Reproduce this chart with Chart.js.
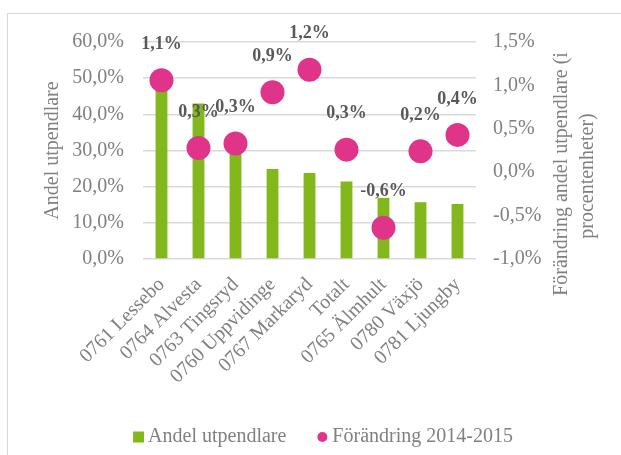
<!DOCTYPE html>
<html>
<head>
<meta charset="utf-8">
<script src="https://cdn.jsdelivr.net/npm/chart.js@4/dist/chart.umd.min.js"></script>
<style>
  body { margin: 0; background: #fff; }
</style>
</head>
<body>
<canvas id="chart" width="621" height="455"></canvas>
<script>
// data
const categories = ['0761 Lessebo', '0764 Alvesta', '0763 Tingsryd', '0760 Uppvidinge',
    '0767 Markaryd', 'Totalt', '0765 Älmhult', '0780 Växjö', '0781 Ljungby'];
const andelUtpendlare = [49.0, 43.0, 31.0, 24.9, 23.8, 21.4, 16.9, 15.7, 15.2];
const forandring = [1.06, 0.28, 0.33, 0.92, 1.18, 0.26, -0.64, 0.24, 0.43];
const leftTicks = { min: 0, max: 60, step: 10 };
const rightTicks = { min: -1.0, max: 1.5, step: 0.5 };

const GREEN = '#83b81d';
const PINK = '#e0338a';
const GRAY = '#808080';
const FONT = "'Liberation Serif', 'DejaVu Serif', serif";
const SIZE = 20;

function pct(v) {
    return v.toFixed(1).replace('.', ',') + '%';
}

// frame, right title, point labels and legend
const decorations = {
    id: 'decorations',
    beforeDraw(chart) {
        const ctx = chart.ctx;
        ctx.save();
        ctx.fillStyle = '#fff';
        ctx.fillRect(0, 0, chart.width, chart.height);
        ctx.strokeStyle = '#d9d9d9';
        ctx.lineWidth = 1;
        ctx.strokeRect(7.5, 13.5, 700, 600);
        ctx.restore();
    },
    afterDraw(chart) {
        const ctx = chart.ctx;
        ctx.save();

        // value labels above dots
        const meta = chart.getDatasetMeta(0);
        ctx.font = 'bold 18px ' + FONT;
        ctx.fillStyle = '#595959';
        ctx.textAlign = 'center';
        ctx.textBaseline = 'middle';
        meta.data.forEach((pt, i) => {
            ctx.fillText(pct(forandring[i]), pt.x, pt.y - 36);
        });

        // right axis title, reading bottom to top
        ctx.font = SIZE + 'px ' + FONT;
        ctx.fillStyle = GRAY;
        [['Förändring andel utpendlare (i', 562, 174], ['procentenheter)', 588, 176]].forEach(([txt, x, y]) => {
            ctx.save();
            ctx.translate(x, y);
            ctx.rotate(-Math.PI / 2);
            ctx.fillText(txt, 0, 0);
            ctx.restore();
        });

        // legend
        const legendY = 437;
        const t1 = 'Andel utpendlare', t2 = 'Förändring 2014-2015';
        const w1 = ctx.measureText(t1).width, w2 = ctx.measureText(t2).width;
        const total = 11 + 4 + w1 + 31 + 10 + 5 + w2;
        let x = 323 - total / 2;
        ctx.textAlign = 'left';
        ctx.fillStyle = GREEN;
        ctx.fillRect(x, legendY - 5.5, 11, 11);
        x += 15;
        ctx.fillStyle = GRAY;
        ctx.fillText(t1, x, legendY);
        x += w1 + 31;
        ctx.fillStyle = PINK;
        ctx.beginPath();
        ctx.arc(x + 5, legendY, 5, 0, Math.PI * 2);
        ctx.fill();
        x += 15;
        ctx.fillStyle = GRAY;
        ctx.fillText(t2, x, legendY);

        ctx.restore();
    }
};

new Chart(document.getElementById('chart'), {
    type: 'bar',
    data: {
        labels: categories,
        datasets: [
            {
                type: 'line',
                label: 'Förändring 2014-2015',
                data: forandring,
                yAxisID: 'y1',
                showLine: false,
                pointRadius: 12,
                pointHoverRadius: 12,
                pointBackgroundColor: PINK,
                pointBorderWidth: 0
            },
            {
                label: 'Andel utpendlare',
                data: andelUtpendlare,
                yAxisID: 'y',
                backgroundColor: GREEN,
                categoryPercentage: 1,
                barPercentage: 0.32
            }
        ]
    },
    options: {
        responsive: false,
        animation: false,
        layout: { padding: { left: 39, top: 42, right: 0, bottom: 46 } },
        plugins: {
            legend: { display: false },
            tooltip: { enabled: false }
        },
        scales: {
            x: {
                grid: { display: false },
                border: { display: false },
                ticks: {
                    color: GRAY,
                    font: { family: FONT, size: SIZE },
                    minRotation: 45,
                    maxRotation: 45,
                    autoSkip: false,
                    padding: 6
                },
                afterFit(scale) { scale.height = 150; }
            },
            y: {
                position: 'left',
                min: leftTicks.min,
                max: leftTicks.max,
                grid: { color: '#d9d9d9', lineWidth: 1.5, drawTicks: false },
                border: { display: false },
                ticks: {
                    stepSize: leftTicks.step,
                    color: GRAY,
                    font: { family: FONT, size: SIZE },
                    padding: 19,
                    callback: v => pct(v)
                },
                title: {
                    display: true,
                    text: 'Andel utpendlare',
                    color: GRAY,
                    font: { family: FONT, size: SIZE },
                    padding: { top: 2, bottom: 4 }
                },
                afterFit(scale) { scale.width = 143 - 39; }
            },
            y1: {
                position: 'right',
                min: rightTicks.min,
                max: rightTicks.max,
                grid: { display: false, drawTicks: false },
                border: { display: false },
                ticks: {
                    stepSize: rightTicks.step,
                    color: GRAY,
                    font: { family: FONT, size: SIZE },
                    padding: 17,
                    callback: v => pct(v)
                },
                afterFit(scale) { scale.width = 621 - 476; }
            }
        }
    },
    plugins: [decorations]
});
</script>
</body>
</html>
